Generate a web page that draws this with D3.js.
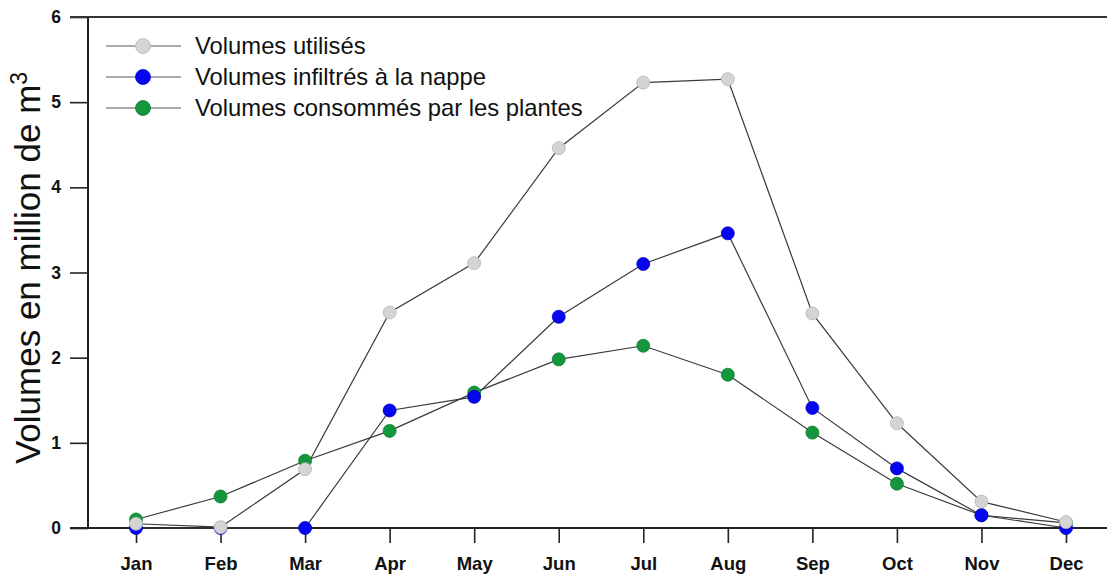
<!DOCTYPE html>
<html>
<head>
<meta charset="utf-8">
<script src="https://cdn.jsdelivr.net/npm/d3@7/dist/d3.min.js"></script>
<style>
  html, body { margin: 0; padding: 0; background: #fff; }
  svg { display: block; font-family: "Liberation Sans", Arial, sans-serif; }
</style>
</head>
<body>
<svg id="chart" width="1107" height="575"></svg>
<script>
// Monthly water volumes (million m³)
const months = ["Jan", "Feb", "Mar", "Apr", "May", "Jun", "Jul", "Aug", "Sep", "Oct", "Nov", "Dec"];
const volumesUtilises = [0.05, 0.01, 0.69, 2.53, 3.11, 4.46, 5.23, 5.27, 2.52, 1.23, 0.31, 0.07];
const volumesInfiltres = [0.0, 0.0, 0.0, 1.38, 1.54, 2.48, 3.10, 3.46, 1.41, 0.70, 0.15, 0.0];
const volumesConsommes = [0.10, 0.37, 0.79, 1.14, 1.59, 1.98, 2.14, 1.80, 1.12, 0.52, 0.15, 0.06];
const yTicks = [0, 1, 2, 3, 4, 5, 6];

const seriesNames = ["Volumes utilisés", "Volumes infiltrés à la nappe", "Volumes consommés par les plantes"];
const seriesValues = [volumesUtilises, volumesInfiltres, volumesConsommes];
const seriesFill = ["#d4d4d4", "#0505f0", "#13963c"];
const seriesStroke = ["#b8b8b8", "#0000c8", "#0e7d30"];

const svg = d3.select("#chart");
const plotLeft = 88, plotTop = 17, plotBottom = 528;

const x = d3.scalePoint().domain(months).range([136, 1066]);
const y = d3.scaleLinear().domain([0, 6]).range([plotBottom, plotTop]);

// Axes
const yAxis = svg.append("g")
  .attr("transform", `translate(${plotLeft},0)`)
  .call(d3.axisLeft(y).tickValues(yTicks).tickSize(18).tickPadding(9).tickFormat(d3.format("d")));
yAxis.select(".domain").remove();
yAxis.selectAll(".tick line").attr("stroke", "#222").attr("stroke-width", 1.6);
yAxis.selectAll(".tick text")
  .attr("font-family", "Liberation Sans, Arial, sans-serif")
  .attr("font-size", 17.5).attr("font-weight", "bold").attr("fill", "#111");

const xAxis = svg.append("g")
  .attr("transform", `translate(0,${plotBottom})`)
  .call(d3.axisBottom(x).tickSize(15).tickPadding(14));
xAxis.select(".domain").remove();
xAxis.selectAll(".tick line").attr("stroke", "#222").attr("stroke-width", 1.6);
xAxis.selectAll(".tick text")
  .attr("font-family", "Liberation Sans, Arial, sans-serif")
  .attr("font-size", 18.5).attr("font-weight", "bold").attr("fill", "#111");

// Frame lines
svg.append("line").attr("x1", plotLeft).attr("x2", plotLeft).attr("y1", plotTop).attr("y2", plotBottom)
  .attr("stroke", "#222").attr("stroke-width", 2);
svg.append("line").attr("x1", 70).attr("x2", 1107).attr("y1", plotTop).attr("y2", plotTop)
  .attr("stroke", "#333").attr("stroke-width", 2);
svg.append("line").attr("x1", 70).attr("x2", 1107).attr("y1", plotBottom).attr("y2", plotBottom)
  .attr("stroke", "#222").attr("stroke-width", 2);

// Y axis title
svg.append("text")
  .attr("transform", `translate(40,268) rotate(-90)`)
  .attr("text-anchor", "middle")
  .attr("font-size", 35)
  .attr("fill", "#111")
  .text("Volumes en million de m")
  .append("tspan").attr("baseline-shift", "super").attr("font-size", 23).text("3");

// Lines
const line = d3.line().x((d, i) => x(months[i])).y(d => y(d));
seriesValues.forEach(vals => {
  svg.append("path").datum(vals)
    .attr("d", line)
    .attr("fill", "none")
    .attr("stroke", "#3a3a3a")
    .attr("stroke-width", 1.2);
});

// Markers (drawn green, blue, then gray on top)
[2, 1, 0].forEach(s => {
  svg.append("g").selectAll("circle")
    .data(seriesValues[s])
    .join("circle")
    .attr("cx", (d, i) => x(months[i]))
    .attr("cy", d => y(d))
    .attr("r", 6.5)
    .attr("fill", seriesFill[s])
    .attr("stroke", seriesStroke[s])
    .attr("stroke-width", 0.8);
});

// Legend
const legend = svg.append("g");
seriesNames.forEach((name, i) => {
  const ly = 46 + i * 31;
  legend.append("line").attr("x1", 106).attr("x2", 181).attr("y1", ly).attr("y2", ly)
    .attr("stroke", "#555").attr("stroke-width", 1.2);
  legend.append("circle").attr("cx", 143).attr("cy", ly).attr("r", 7.5)
    .attr("fill", seriesFill[i]).attr("stroke", seriesStroke[i]).attr("stroke-width", 0.8);
  legend.append("text").attr("x", 195).attr("y", ly).attr("dy", "0.35em")
    .attr("font-size", 23.8).attr("fill", "#111").text(name);
});
</script>
</body>
</html>
